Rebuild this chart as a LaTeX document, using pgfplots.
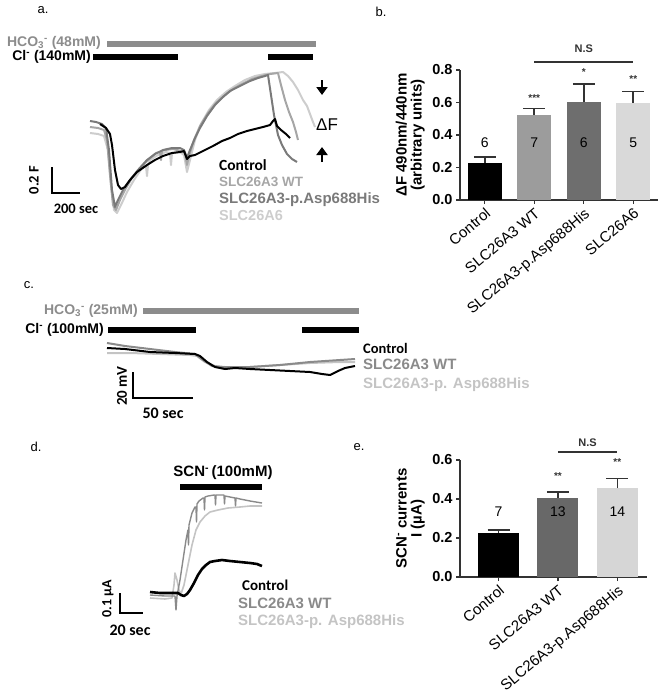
\documentclass[border=0pt]{standalone}
\usepackage{pgfplots}
\pgfplotsset{compat=1.18}
\usepackage{fontspec}
\setmainfont{Liberation Sans}
\newfontfamily\calib{Carlito}
\usetikzlibrary{arrows.meta}
\newcommand\fs[1]{\fontsize{#1}{#1}\selectfont}
% trace colours
\definecolor{aWT}{HTML}{A6A6A6}
\definecolor{aAsp}{HTML}{7A7A7A}
\definecolor{aSix}{HTML}{CDCDCD}
\definecolor{cWT}{HTML}{8A8A8A}
\definecolor{cAsp}{HTML}{C4C4C4}
\definecolor{hco}{HTML}{8C8C8C}
% bar colours
\definecolor{bWT}{HTML}{9C9C9C}
\definecolor{bAsp}{HTML}{6E6E6E}
\definecolor{bSix}{HTML}{D9D9D9}
\definecolor{eWT}{HTML}{686868}
\definecolor{eAsp}{HTML}{D6D6D6}
\definecolor{axc}{HTML}{333333}

\pgfplotsset{
  barpanel/.style={
    scale only axis, clip=false,
    axis x line*=bottom, axis y line*=left,
    axis line style={line width=1.2pt, axc},
    tick style={line width=1.2pt, axc},
    major tick length=4pt, tick align=outside,
    /pgf/number format/assume math mode=true,
    yticklabel style={font=\fs{14.5}\bfseries,
      /pgf/number format/fixed, /pgf/number format/fixed zerofill,
      /pgf/number format/precision=1},
    xticklabel style={rotate=40, anchor=north east, font=\fs{15}, inner sep=2pt},
    ylabel style={align=center, font=\fs{15}\bfseries, inner sep=1pt},
    ylabel shift=3pt,
  },
  bar/.style={ybar, bar shift=0pt, draw=none, fill=#1,
    error bars/y dir=plus, error bars/y explicit,
    error bars/error mark=|,
    error bars/error bar style={line width=1.6pt, axc},
    error bars/error mark options={line width=1.6pt, axc, mark size=11pt}},
  counts/.style={draw=none, mark=none, nodes near coords, point meta=explicit symbolic,
    nodes near coords style={anchor=center, font=\fs{14}, text=#1}},
  stars/.style={draw=none, mark=none, nodes near coords, point meta=explicit symbolic,
    nodes near coords style={anchor=center, font=\fs{10}\bfseries, text=axc}},
}

\begin{document}
\begin{tikzpicture}
\useasboundingbox (0,0) rectangle (660pt,694pt);

% ---------- traces (a, c, d), drawn in picture pixels ----------
\begin{axis}[at={(0pt,0pt)}, anchor=south west, scale only axis,
  width=660pt, height=694pt, xmin=0, xmax=660, ymin=0, ymax=694,
  y dir=reverse, hide axis, clip=false]

% panel labels
\node[font=\fs{13}] at (axis cs:43,10) {a.};
\node[font=\fs{13}] at (axis cs:381,12) {b.};
\node[font=\fs{13}] at (axis cs:29,285) {c.};
\node[font=\fs{13}] at (axis cs:36,447) {d.};
\node[font=\fs{13}] at (axis cs:359,447) {e.};

% ----- a -----
\node[anchor=east, font=\fs{14}\bfseries, text=hco, inner sep=0pt] at (axis cs:101,43) {HCO\textsubscript{3}\textsuperscript{-} (48mM)};
\draw[hco, line width=6.5pt] (axis cs:107,44) -- (axis cs:316,44);
\node[anchor=east, font=\fs{14}\bfseries, inner sep=0pt] at (axis cs:91,57) {Cl\textsuperscript{-} (140mM)};
\draw[black, line width=6.5pt] (axis cs:93,57) -- (axis cs:178,57);
\draw[black, line width=6.5pt] (axis cs:268,57) -- (axis cs:313,57);

\addplot[aSix, line width=2pt, line join=round] coordinates {
(90,133) (98,134) (104,136) (108,150) (111,185) (114,210) (117,213) (121,205)
(127,192) (134,180) (142,168) (146,166) (147,176) (148,165) (150,160) (158,155)
(166,152) (170,153) (171,165) (172,153) (174,153) (180,152) (184,155) (187,172)
(190,160) (195,140) (201,124) (209,110) (217,100) (226,92) (235,86) (245,80)
(255,76) (265,74) (275,73) (283,72) (288,76) (293,82) (298,90) (303,100)
(307,106) (310,114) (313,122) (315,127)};
\addplot[aWT, line width=2pt, line join=round] coordinates {
(90,127) (98,128) (104,130) (107,140) (110,175) (113,205) (116,210) (120,200)
(126,188) (132,178) (140,168) (148,160) (156,153) (160,152) (161,160) (162,151)
(165,150) (173,149) (181,151) (185,153) (187,165) (189,156) (194,140) (200,126)
(208,113) (216,103) (225,95) (233,89) (242,84) (252,79) (262,76) (270,74)
(278,73) (281,85) (285,100) (289,112) (293,122) (296,132) (298,140)};
\addplot[aAsp, line width=2pt, line join=round] coordinates {
(90,121) (96,122) (102,124) (106,128) (109,150) (112,190) (115,207) (118,200)
(124,188) (130,180) (138,170) (147,160) (155,154) (163,150) (172,148) (180,148)
(184,150) (187,158) (190,150) (195,138) (200,128) (207,116) (215,105) (223,97)
(230,91) (240,86) (250,81) (258,78) (265,76) (268,75) (271,95) (274,115)
(278,135) (282,145) (287,154) (292,159) (297,162)};
\addplot[black, line width=2pt, line join=round] coordinates {
(100,124) (106,128) (110,134) (112,145) (115,170) (118,185) (121,189) (125,187)
(130,180) (137,172) (147,165) (155,160) (163,156) (172,153) (180,152) (184,151)
(187,159) (190,156) (195,155) (203,151) (213,146) (222,141) (230,138) (238,134)
(247,131) (255,129) (263,127) (270,125) (273,121) (275,119) (277,126) (281,130)
(286,134) (290,138)};

\draw[line width=2.6pt, -{Triangle[width=11pt,length=8pt]}] (axis cs:322,80) -- (axis cs:322,95);
\draw[line width=2.6pt, -{Triangle[width=11pt,length=8pt]}] (axis cs:322,162) -- (axis cs:322,147);
\node[anchor=west, font=\fs{17}, inner sep=0pt] at (axis cs:316,125) {ΔF};

\node[anchor=west, font=\calib\fs{15.5}\bfseries, inner sep=0pt] at (axis cs:219,165) {Control};
\node[anchor=west, font=\fs{13.5}\bfseries, text=aWT, inner sep=0pt] at (axis cs:219,182) {SLC26A3 WT};
\node[anchor=west, font=\fs{15}\bfseries, text=aAsp, inner sep=0pt] at (axis cs:219,200) {SLC26A3-p.Asp688His};
\node[anchor=west, font=\fs{14.5}\bfseries, text=aSix, inner sep=0pt] at (axis cs:219,216) {SLC26A6};

\draw[line width=2.2pt] (axis cs:52,167) -- (axis cs:52,193) -- (axis cs:80,193);
\node[rotate=90, font=\calib\fs{14.5}\bfseries] at (axis cs:34,180) {0.2 F};
\node[font=\calib\fs{14.5}\bfseries] at (axis cs:76,209) {200 sec};

% ----- c -----
\node[anchor=east, font=\fs{14}\bfseries, text=hco, inner sep=0pt] at (axis cs:138,311) {HCO\textsubscript{3}\textsuperscript{-} (25mM)};
\draw[hco, line width=6.5pt] (axis cs:143,311) -- (axis cs:359,311);
\node[anchor=east, font=\fs{14}\bfseries, inner sep=0pt] at (axis cs:104,330) {Cl\textsuperscript{-} (100mM)};
\draw[black, line width=6.5pt] (axis cs:108,330) -- (axis cs:196,330);
\draw[black, line width=6.5pt] (axis cs:302,330) -- (axis cs:359,330);

\addplot[cAsp, line width=2pt, line join=round] coordinates {
(107,353) (130,353) (160,354) (190,355) (197,356) (205,362) (215,366) (225,367)
(250,367) (280,365) (310,363) (340,362) (355,362)};
\addplot[cWT, line width=2pt, line join=round] coordinates {
(107,343) (125,346) (150,349) (175,352) (195,354) (203,360) (212,366) (222,367)
(250,367) (280,365) (310,362) (340,360) (355,359)};
\addplot[black, line width=2pt, line join=round] coordinates {
(107,348) (125,349) (150,352) (175,353) (195,354) (200,356) (207,362) (215,367)
(225,369) (235,368) (250,369) (270,370) (290,371) (310,372) (322,374) (330,375)
(338,371) (345,368) (355,366)};

\node[anchor=west, font=\calib\fs{14.5}\bfseries, inner sep=0pt] at (axis cs:363,348) {Control};
\node[anchor=west, font=\fs{15}\bfseries, text=cWT, inner sep=0pt] at (axis cs:363,364) {SLC26A3 WT};
\node[anchor=west, font=\fs{15}\bfseries, text=cAsp, inner sep=0pt] at (axis cs:363,385) {SLC26A3-p. Asp688His};

\draw[line width=2.2pt] (axis cs:133,372) -- (axis cs:133,398) -- (axis cs:193,398);
\node[rotate=90, font=\calib\fs{15}\bfseries] at (axis cs:122,386) {20 mV};
\node[font=\calib\fs{16}\bfseries] at (axis cs:163,413) {50 sec};

% ----- d -----
\node[font=\fs{15}\bfseries, inner sep=0pt] at (axis cs:223,473) {SCN\textsuperscript{-}\,(100mM)};
\draw[black, line width=6.5pt] (axis cs:180,487) -- (axis cs:262,487);

\addplot[cAsp, line width=1.6pt, line join=round] coordinates {
(150,598) (165,599) (172,598) (174,585) (175,573) (177,580) (179,590) (181,594)
(184,585) (188,565) (192,545) (196,530) (200,522) (205,516) (210,512) (218,510)
(228,508) (240,507) (250,506) (262,506)};
\addplot[cWT, line width=1.4pt, line join=round] coordinates {
(150,595) (165,596) (175,596) (176,610) (177,596) (180,580) (183,560) (186,540)
(188,530) (188.5,545) (189,525) (192,513) (195,507) (196,507) (196.5,522) (197,504)
(199,501) (203,498) (204,498) (204.5,510) (205,497) (208,496) (214,495) (215,495)
(215.5,505) (216,495) (222,495) (224,495) (224.5,504) (225,496) (230,497) (235,498)
(235.5,506) (236,498) (240,499) (250,501) (262,503)};
\addplot[black, line width=2.6pt, line join=round] coordinates {
(150,592) (160,593) (170,593) (178,593) (181,595) (184,596) (187,594) (190,590)
(194,583) (198,575) (202,569) (206,565) (210,562) (215,561) (222,560) (230,561)
(240,562) (250,563) (257,564) (262,566)};

\node[anchor=west, font=\calib\fs{15}\bfseries, inner sep=0pt] at (axis cs:242,585) {Control};
\node[anchor=west, font=\fs{15}\bfseries, text=cWT, inner sep=0pt] at (axis cs:238,603) {SLC26A3 WT};
\node[anchor=west, font=\fs{15}\bfseries, text=cAsp, inner sep=0pt] at (axis cs:238,622) {SLC26A3-p. Asp688His};

\draw[line width=2.2pt] (axis cs:120,593) -- (axis cs:120,613) -- (axis cs:143,613);
\node[rotate=90, font=\calib\fs{14}\bfseries] at (axis cs:108,599) {0.1 µA};
\node[font=\calib\fs{16}\bfseries] at (axis cs:130,630) {20 sec};
\end{axis}

% ---------- b ----------
\begin{axis}[barpanel, at={(460pt,494pt)}, anchor=south west,
  width=198pt, height=130pt,
  xmin=-0.5, xmax=3.5, ymin=0, ymax=0.8,
  xtick={0,1,2,3},
  xticklabels={Control, SLC26A3 WT, SLC26A3-p.Asp688His, SLC26A6},
  ytick={0,0.2,0.4,0.6,0.8},
  ylabel={ΔF 490nm/440nm\\(arbitrary units)}]
\addplot[bar width=34pt, bar=black] coordinates {(0,0.228) +- (0,0.037)};
\addplot[bar width=34pt, bar=bWT] coordinates {(1,0.522) +- (0,0.040)};
\addplot[bar width=34pt, bar=bAsp] coordinates {(2,0.603) +- (0,0.112)};
\addplot[bar width=34pt, bar=bSix] coordinates {(3,0.600) +- (0,0.068)};
\addplot[counts=black] coordinates {(0,0.35)[6] (1,0.35)[7] (2,0.35)[6] (3,0.35)[5]};
\addplot[stars] coordinates {(1,0.625)[***] (2,0.785)[*] (3,0.745)[**]};
\addplot[axc, line width=1.5pt] coordinates {(1,0.85) (3,0.85)};
\addplot[counts=axc, nodes near coords style={font=\fs{11}\bfseries}] coordinates {(2,0.93)[N.S]};
\end{axis}

% ---------- e ----------
\begin{axis}[barpanel, at={(460pt,117pt)}, anchor=south west,
  width=187pt, height=117pt,
  xmin=-0.65, xmax=2.5, ymin=0, ymax=0.6,
  xtick={0,1,2},
  xticklabels={Control, SLC26A3 WT, SLC26A3-p.Asp688His},
  ytick={0,0.2,0.4,0.6},
  ylabel={SCN\textsuperscript{-} currents\\I (µA)}]
\addplot[bar width=41pt, bar=black] coordinates {(0,0.226) +- (0,0.016)};
\addplot[bar width=41pt, bar=eWT] coordinates {(1,0.405) +- (0,0.031)};
\addplot[bar width=41pt, bar=eAsp] coordinates {(2,0.456) +- (0,0.050)};
\addplot[counts=black] coordinates {(0,0.333)[7] (1,0.333)[13] (2,0.333)[14]};
\addplot[stars] coordinates {(1,0.52)[**] (2,0.59)[**]};
\addplot[axc, line width=1.5pt] coordinates {(1,0.64) (2,0.64)};
\addplot[counts=axc, nodes near coords style={font=\fs{11}\bfseries}] coordinates {(1.5,0.69)[N.S]};
\end{axis}
\end{tikzpicture}
\end{document}
